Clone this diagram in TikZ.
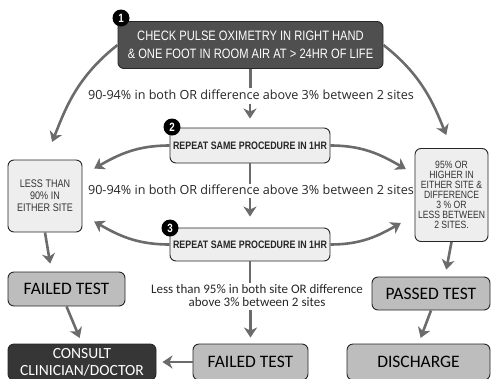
\documentclass[tikz,border=0pt]{standalone}
\usepackage{fontspec}
\setmainfont{Carlito}
\newfontfamily\narrowfont[FakeStretch=0.82]{Liberation Sans}
\newfontfamily\labfont{Open Sans}
\usetikzlibrary{arrows.meta}
\definecolor{darkbox}{HTML}{4F4F4F}
\definecolor{blackbox}{HTML}{363636}
\definecolor{lightbox}{HTML}{EEEEEE}
\definecolor{midbox}{HTML}{BDBDBD}
\definecolor{arrowgray}{HTML}{6B6B6B}
\begin{document}
\begin{tikzpicture}[x=1pt,y=-1pt,
		box/.style={draw=black!85, line width=0.9pt, rounded corners=6pt, inner sep=0pt, align=center},
		badge/.style={circle, fill=black, text=white, inner sep=0pt, minimum size=17pt, font=\narrowfont\bfseries\fontsize{12}{12}\selectfont},
		link/.style={draw=arrowgray, line width=2.6pt},
		arr/.style={link, -{Stealth[length=10pt, width=13pt, inset=3pt]}},
		steplabel/.style={inner sep=1pt, font=\labfont\fontsize{12.6}{14}\selectfont, text=black!85}]
		\useasboundingbox (0,0) rectangle (492,378);
		\clip (0,0) rectangle (492,378);
		% boxes
		\node[box, fill=darkbox, text=white, minimum width=265pt, minimum height=47pt, font=\narrowfont\fontsize{13.6}{18}\selectfont] (check) at (250.5,45) {CHECK PULSE OXIMETRY IN RIGHT HAND\\ \& ONE FOOT IN ROOM AIR AT > 24HR OF LIFE};
		\node[box, fill=lightbox, text=black!85, minimum width=160pt, minimum height=35pt, font=\narrowfont\bfseries\fontsize{10.8}{11}\selectfont] (rep1) at (250,145.5) {REPEAT SAME PROCEDURE IN 1HR};
		\node[box, fill=lightbox, text=black!85, minimum width=160pt, minimum height=33pt, font=\narrowfont\bfseries\fontsize{10.8}{11}\selectfont] (rep2) at (250,244.5) {REPEAT SAME PROCEDURE IN 1HR};
		\node[box, fill=lightbox, text=black!80, minimum width=74pt, minimum height=72pt, font=\narrowfont\fontsize{11}{12}\selectfont] (less) at (45,196) {LESS THAN\\90\% IN\\EITHER SITE};
		\node[box, fill=lightbox, text=black!80, minimum width=73pt, minimum height=93pt, font=\narrowfont\fontsize{10.5}{10}\selectfont] (high) at (451.5,195) {95\% OR\\HIGHER IN\\EITHER SITE \&\\DIFFERENCE\\3 \% OR\\LESS BETWEEN\\2 SITES.};
		\node[box, fill=midbox, minimum width=117pt, minimum height=34pt, font=\fontsize{17.5}{18}\selectfont] (fail1) at (66.5,289) {FAILED TEST};
		\node[box, fill=midbox, minimum width=118pt, minimum height=33pt, font=\fontsize{17.5}{18}\selectfont] (passed) at (431,293.5) {PASSED TEST};
		\node[box, fill=blackbox, text=white, minimum width=148pt, minimum height=36pt, font=\fontsize{15.5}{17}\selectfont] (consult) at (82,362) {CONSULT\\CLINICIAN/DOCTOR};
		\node[box, fill=midbox, minimum width=115pt, minimum height=36pt, font=\fontsize{17.5}{18}\selectfont] (fail2) at (250.5,362) {FAILED TEST};
		\node[box, fill=midbox, minimum width=143pt, minimum height=36pt, font=\fontsize{17.5}{18}\selectfont] (discharge) at (418.5,362) {DISCHARGE};
		% step badges
		\node[badge] (b1) at (121,18) {1};
		\node[badge] (b2) at (172,127) {2};
		\node[badge] (b3) at (170,228) {3};
		% labels on the middle column
		\node[steplabel] (lab1) at (251,95) {90-94\% in both OR difference above 3\% between 2 sites};
		\node[steplabel] (lab2) at (251,190) {90-94\% in both OR difference above 3\% between 2 sites};
		\node[steplabel, align=center, font=\fontsize{13}{13}\selectfont] (lab3) at (257,296) {Less than 95\% in both site OR difference\\above 3\% between 2 sites};
		% middle column
		\draw[link, shorten >=1pt] (check.south) -- (lab1.north -| check.south);
		\draw[arr, shorten <=3pt, shorten >=9pt] (lab1.south -| rep1.north) -- (rep1.north);
		\draw[link] (rep1.south) -- (lab2.north -| rep1.south);
		\draw[arr, shorten <=2pt, shorten >=11pt] (lab2.south -| rep2.north) -- (rep2.north);
		\draw[link, shorten >=1pt] (rep2.south) -- (lab3.north -| rep2.south);
		\draw[arr, shorten <=2pt, shorten >=6pt] (lab3.south -| fail2.north) -- (fail2.north);
		% curved branches
		\draw[arr, shorten >=19pt] (check.west) to[out=218, in=68] (less.north);
		\draw[arr, shorten >=14pt] (check.east) to[out=-38, in=112] (high.north);
		\draw[arr, shorten >=2pt] (rep1.west) to[out=180, in=30] ([xshift=10pt,yshift=-10pt]less.north east);
		\draw[arr, shorten >=2pt] (rep1.east) to[out=0, in=150] ([xshift=-7pt,yshift=-22pt]high.north west);
		\draw[arr, shorten >=2pt] (rep2.west) to[out=180, in=-30] ([xshift=10pt,yshift=12pt]less.south east);
		\draw[arr, shorten >=2pt] (rep2.east) to[out=0, in=210] ([xshift=-12pt,yshift=20pt]high.south west);
		% down to the results
		\draw[arr, shorten >=8pt] (less.south) -- ([xshift=-15pt]fail1.north);
		\draw[arr, shorten >=7pt] (high.south) -- ([xshift=14pt]passed.north);
		\draw[arr, shorten >=6pt] (fail1.south) -- (consult.north);
		\draw[arr, shorten >=6pt] (passed.south) -- (discharge.north);
		\draw[arr, shorten >=6pt] (fail2.west) -- (consult.east);
\end{tikzpicture}
\end{document}
